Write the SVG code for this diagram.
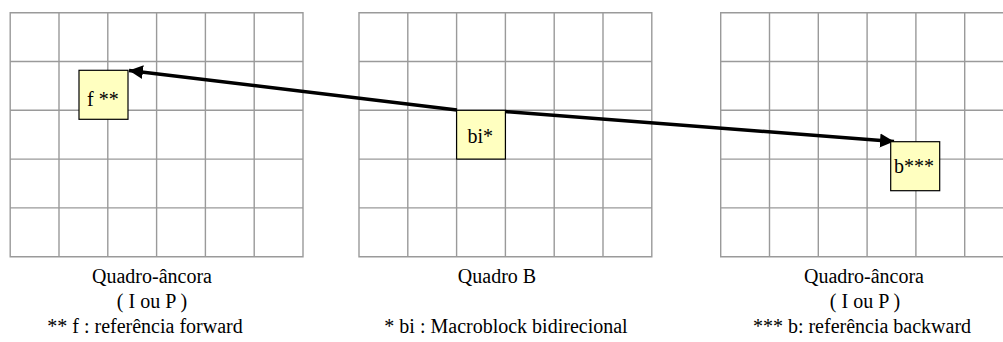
<svg xmlns="http://www.w3.org/2000/svg" xmlns:xlink="http://www.w3.org/1999/xlink" width="1003" height="342" viewBox="0 0 1003 342">
<style>
.grid{fill:none;stroke:#9a9a9a;stroke-width:1.4}
.box{fill:#ffffc0;stroke:#000;stroke-width:1.2}
.lbl{font-family:"Liberation Serif","Times New Roman",serif;font-size:20px;fill:#000}
.mid{text-anchor:middle}
.conn{fill:none;stroke:#000;stroke-width:3.5}
</style>
<defs>
<path id="grid" class="grid" d="M0,0H292.8V244H0Z M48.8,0V244 M97.6,0V244 M146.4,0V244 M195.2,0V244 M244,0V244 M0,48.8H292.8 M0,97.6H292.8 M0,146.4H292.8 M0,195.2H292.8"/>
<marker id="ah" markerUnits="userSpaceOnUse" markerWidth="16" markerHeight="16" viewBox="0 0 16 16" refX="14" refY="8" orient="auto">
<path d="M0,1L14,8L0,15Z" fill="#000"/>
</marker>
</defs>
<rect width="1003" height="342" fill="#fff"/>
<g id="frame-left">
<use xlink:href="#grid" x="10.2" y="12.7"/>
<text class="lbl mid" x="152" y="283">Quadro-âncora</text>
<text class="lbl mid" x="152" y="308">( I ou P )</text>
<text class="lbl mid" x="145" y="333">** f : referência forward</text>
</g>
<g id="frame-mid">
<use xlink:href="#grid" x="359" y="12.7"/>
<text class="lbl mid" x="497" y="283">Quadro B</text>
<text class="lbl mid" x="506" y="333">* bi : Macroblock bidirecional</text>
</g>
<g id="frame-right">
<use xlink:href="#grid" x="720.7" y="12.7"/>
<text class="lbl mid" x="864" y="283">Quadro-âncora</text>
<text class="lbl mid" x="865" y="308">( I ou P )</text>
<text class="lbl mid" x="862" y="333">*** b: referência backward</text>
</g>
<g id="connectors">
<line class="conn" x1="457" y1="110" x2="129" y2="70.5" marker-end="url(#ah)"/>
<line class="conn" x1="505" y1="111.5" x2="894" y2="141.5" marker-end="url(#ah)"/>
</g>
<g id="node-f">
<rect class="box" x="79" y="70.3" width="49" height="49"/>
<text class="lbl" x="87" y="106">f **</text>
</g>
<g id="node-bi">
<rect class="box" x="456.6" y="110.3" width="48.8" height="48.8"/>
<text class="lbl" x="467.5" y="143">bi*</text>
</g>
<g id="node-b">
<rect class="box" x="890.7" y="141.7" width="49" height="49"/>
<text class="lbl" x="894" y="173">b***</text>
</g>
</svg>
